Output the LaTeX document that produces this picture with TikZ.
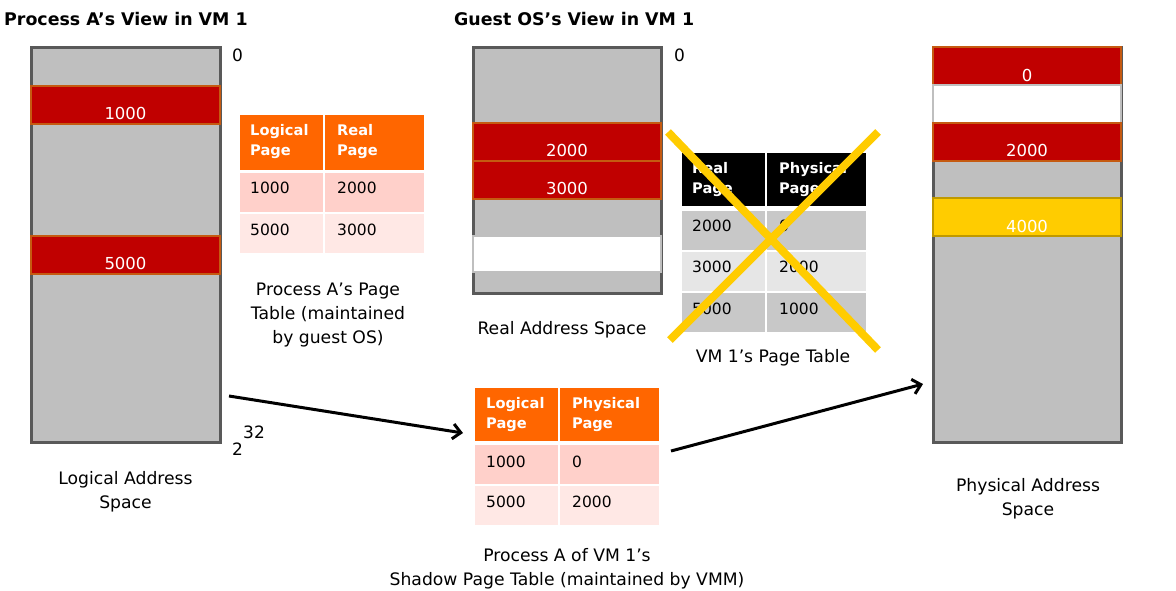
\documentclass[tikz,border=0pt]{standalone}
\usepackage{fontspec}
\setmainfont{DejaVu Sans}
\usetikzlibrary{arrows.meta}
\definecolor{barfill}{HTML}{BFBFBF}
\definecolor{barline}{HTML}{595959}
\definecolor{pgred}{HTML}{C00000}
\definecolor{pgredline}{HTML}{C55A11}
\definecolor{pgyel}{HTML}{FFCC00}
\definecolor{pgyelline}{HTML}{BF9900}
\definecolor{hdor}{HTML}{FF6600}
\definecolor{rowA}{HTML}{FFD0CA}
\definecolor{rowB}{HTML}{FFE8E5}
\definecolor{grA}{HTML}{C8C8C8}
\definecolor{grB}{HTML}{E6E6E6}
\newcommand{\rectnode}[6]{\node[#1, inner sep=0pt, minimum width={(#5)-(#3)}, minimum height={(#6)-(#4)}] (#2) at ({((#3)+(#5))/2},{((#4)+(#6))/2}) {};}
\tikzset{
  bar/.style={draw=barline, fill=barfill, line width=3pt},
  redband/.style={draw=pgredline, fill=pgred, line width=2pt},
  yelband/.style={draw=pgyelline, fill=pgyel, line width=2pt},
  whiteband/.style={draw=barfill, fill=white, line width=2pt},
  hdcell/.style={draw=white, fill=hdor, line width=2pt},
  blkcell/.style={draw=white, fill=black, line width=2pt},
  cellA/.style={draw=white, fill=rowA, line width=2pt},
  cellB/.style={draw=white, fill=rowB, line width=2pt},
  gcellA/.style={draw=white, fill=grA, line width=2pt},
  gcellB/.style={draw=white, fill=grB, line width=2pt},
  title/.style={font=\fontsize{17.4}{20}\selectfont\bfseries, anchor=base west, inner sep=0pt},
  lbl/.style={font=\fontsize{17}{20}\selectfont, anchor=base west, inner sep=0pt},
  bandtxt/.style={font=\fontsize{16.5}{20}\selectfont, text=white, anchor=base, inner sep=0pt},
  hdtxt/.style={font=\fontsize{14.6}{20}\selectfont\bfseries, text=white, anchor=base west, align=left, inner sep=0pt},
  celltxt/.style={font=\fontsize{15.5}{20}\selectfont, anchor=base west, inner sep=0pt},
  caption/.style={font=\fontsize{17.2}{24}\selectfont, anchor=base, align=center, inner sep=0pt},
  arr/.style={line width=3pt, -{Straight Barb[length=8pt,width=15pt]}},
  cross/.style={draw=pgyel, line width=8pt},
}
\begin{document}
\begin{tikzpicture}[x=1pt,y=-1pt]
\path[use as bounding box] (0,0) rectangle (1176,590);

% titles
\node[title] (t1) at (4,25) {Process A’s View in VM 1};
\node[title] (t2) at (454,25) {Guest OS’s View in VM 1};

% left bar (logical address space)
\rectnode{bar}{lbar}{31}{47}{220}{442}
\rectnode{redband}{l1000}{31}{86}{220}{124}
\rectnode{redband}{l5000}{31}{236}{220}{274}
\node[bandtxt] at (125.5,119) {1000};
\node[bandtxt] at (125.5,269) {5000};
\node[lbl] (z1) at (232,61) {0};
\node[lbl] (e2) at (232,455) {2};
\node[lbl] (e32) at (243,438) {32};
\node[caption] (capL) at (125.5,508) {Logical Address\\Space};

% table 1
\rectnode{hdcell}{ta11}{239}{114}{324}{171}
\rectnode{hdcell}{ta12}{324}{114}{425}{171}
\rectnode{cellA}{ta21}{239}{172}{324}{213}
\rectnode{cellA}{ta22}{324}{172}{425}{213}
\rectnode{cellB}{ta31}{239}{213}{324}{254}
\rectnode{cellB}{ta32}{324}{213}{425}{254}
\node[hdtxt] at (250,155) {Logical\\Page};
\node[hdtxt] at (337,155) {Real\\Page};
\node[celltxt] at (250,193.5) {1000};
\node[celltxt] at (337,193.5) {2000};
\node[celltxt] at (250,235.5) {5000};
\node[celltxt] at (337,235.5) {3000};
\node[caption] (capA) at (328,343) {Process A’s Page\\Table (maintained\\by guest OS)};

% middle bar (real address space)
\rectnode{bar}{mbar}{473}{47}{661}{293}
\rectnode{redband}{m2000}{473}{123}{661}{161}
\rectnode{redband}{m3000}{473}{161}{661}{199}
\rectnode{whiteband}{mwhite}{473}{236}{661}{272}
\node[bandtxt] at (567,156) {2000};
\node[bandtxt] at (567,194) {3000};
\node[lbl] (z2) at (674,61) {0};
\node[caption] (capR) at (562,334) {Real Address Space};

% VM 1's page table
\rectnode{blkcell}{tv11}{681}{152}{766}{207}
\rectnode{blkcell}{tv12}{766}{152}{867}{207}
\rectnode{gcellA}{tv21}{681}{210}{766}{251}
\rectnode{gcellA}{tv22}{766}{210}{867}{251}
\rectnode{gcellB}{tv31}{681}{251}{766}{292}
\rectnode{gcellB}{tv32}{766}{251}{867}{292}
\rectnode{gcellA}{tv41}{681}{292}{766}{333}
\rectnode{gcellA}{tv42}{766}{292}{867}{333}
\node[hdtxt] at (692,193) {Real\\Page};
\node[hdtxt] at (779,193) {Physical\\Page};
\node[celltxt] at (692,231.5) {2000};
\node[celltxt] at (779,231.5) {0};
\node[celltxt] at (692,272.5) {3000};
\node[celltxt] at (779,272.5) {2000};
\node[celltxt] at (692,314.5) {5000};
\node[celltxt] at (779,314.5) {1000};
\coordinate (xa1) at (668,132);
\coordinate (xa2) at (878,350);
\coordinate (xb1) at (878,132);
\coordinate (xb2) at (670,340);
\draw[cross] (xa1) -- (xa2);
\draw[cross] (xb1) -- (xb2);
\node[caption] (capV) at (773,362) {VM 1’s Page Table};

% right bar (physical address space)
\rectnode{bar}{pbar}{933}{47}{1121}{442}
\rectnode{redband}{p0}{933}{47}{1121}{85}
\rectnode{whiteband}{pwhite}{933}{85}{1121}{123}
\rectnode{redband}{p2000}{933}{123}{1121}{161}
\rectnode{yelband}{p4000}{933}{198}{1121}{236}
\node[bandtxt] at (1027,81) {0};
\node[bandtxt] at (1027,156) {2000};
\node[bandtxt] at (1027,232) {4000};
\node[caption] (capP) at (1028,515) {Physical Address\\Space};

% shadow page table
\rectnode{hdcell}{ts11}{474}{387}{559}{442}
\rectnode{hdcell}{ts12}{559}{387}{660}{442}
\rectnode{cellA}{ts21}{474}{444}{559}{485}
\rectnode{cellA}{ts22}{559}{444}{660}{485}
\rectnode{cellB}{ts31}{474}{485}{559}{526}
\rectnode{cellB}{ts32}{559}{485}{660}{526}
\node[hdtxt] at (486,428) {Logical\\Page};
\node[hdtxt] at (572,428) {Physical\\Page};
\node[celltxt] at (486,467.5) {1000};
\node[celltxt] at (572,467.5) {0};
\node[celltxt] at (486,507.5) {5000};
\node[celltxt] at (572,507.5) {2000};
\node[caption] (capS) at (567,585) {Process A of VM 1’s\\Shadow Page Table (maintained by VMM)};

% arrows
\coordinate (a1s) at (229,396);
\coordinate (a1e) at (463,433);
\coordinate (a2s) at (671,451);
\coordinate (a2e) at (923,384);
\draw[arr] (a1s) -- (a1e);
\draw[arr] (a2s) -- (a2e);
\end{tikzpicture}
\end{document}
